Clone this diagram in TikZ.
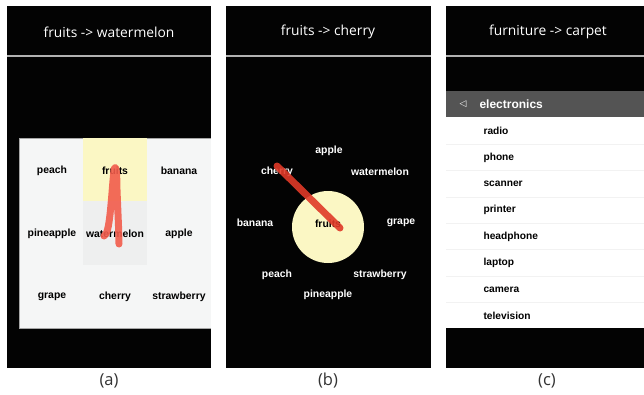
\documentclass[tikz,border=0pt]{standalone}
\usepackage{fontspec}
\usepackage{xcolor}
\setmainfont{Open Sans}
\newfontfamily\itemfont{Liberation Sans}
\newfontfamily\symfont{DejaVu Sans}
\usetikzlibrary{positioning}

\definecolor{screen}{HTML}{030303}
\definecolor{gridback}{HTML}{F5F6F6}
\definecolor{cellhigh}{HTML}{FBF7C4}
\definecolor{cellgray}{HTML}{EEEFEF}
\definecolor{touchred}{HTML}{F25C4C}
\definecolor{touchdark}{HTML}{E03A28}
\definecolor{menubar}{HTML}{545454}

\tikzset{
  title/.style={text=white,font=\fontsize{13.8}{16}\selectfont},
  caption/.style={text=black!80,font=\fontsize{16.5}{19}\selectfont},
  griditem/.style={text=black,font=\itemfont\bfseries\fontsize{10.4}{12}\selectfont},
  ringitem/.style={text=white,font=\itemfont\bfseries\fontsize{10.4}{12}\selectfont},
  listitem/.style={text=black,anchor=west,font=\itemfont\bfseries\fontsize{10.2}{12}\selectfont},
  touch/.style={line width=7pt,line cap=round,line join=round,opacity=0.9}
}

\begin{document}
\begin{tikzpicture}[x=1pt,y=-1pt]
	\fill [white] (0,0) rectangle (644,394);
	\useasboundingbox (0,0) rectangle (644,394);
	% three phone screens
	\fill [screen] (7,6) rectangle (211,368);
	\fill [screen] (226,6) rectangle (431,368);
	\fill [screen] (446,6) rectangle (644,368);
	\draw [gray!60,line width=1.2pt] (7,56)--(211,56);
	\draw [gray!60,line width=1.2pt] (226,56)--(431,56);
	\draw [gray!60,line width=1.2pt] (446,56)--(644,56);
	\node [title] (ta) at (109,32) {fruits -> watermelon};
	\node [title] (tb) at (328,32) {fruits -> cherry};
	\node [title] (tc) at (548,32) {furniture -> carpet};
	\node [caption] (ca) at (109,381) {(a)};
	\node [caption] (cb) at (328,381) {(b)};
	\node [caption] (cc) at (547,381) {(c)};

	% (a) grid menu
	\fill [gridback] (19,138) rectangle (211,328);
	\draw [gray!70] (211,328)--(19,328)--(19,138)--(211,138);
	\fill [cellhigh] (83,138) rectangle (147,201);
	\fill [cellgray] (83,201) rectangle (147,265);
	\node [griditem] (peach) at (52,171) {peach};
	\node [griditem] (fruits) at (115,171) {fruits};
	\node [griditem] (banana) at (179,171) {banana};
	\node [griditem] (pineapple) at (52,234) {pineapple};
	\node [griditem] (watermelon) at (115,234) {watermelon};
	\node [griditem] (apple) at (179,234) {apple};
	\node [griditem] (grape) at (52,297) {grape};
	\node [griditem] (cherry) at (115,297) {cherry};
	\node [griditem] (strawberry) at (179,297) {strawberry};
	\draw [touch,touchred] (104,236) .. controls (110,234) and (111,200) .. (114,170)
		.. controls (116,162) and (117,175) .. (117,190)
		.. controls (118,215) and (119,235) .. (119,244);

	% (b) marking menu
	\fill [cellhigh] (328,227) circle (36);
	\node [griditem] (rfruits) at (328,224) {fruits};
	\node [ringitem] (rapple) at (329,151) {apple};
	\node [ringitem] (rwatermelon) at (380,172) {watermelon};
	\node [ringitem] (rgrape) at (401,223) {grape};
	\node [ringitem] (rstrawberry) at (380,275) {strawberry};
	\node [ringitem] (rpineapple) at (328,295) {pineapple};
	\node [ringitem] (rpeach) at (277,275) {peach};
	\node [ringitem] (rbanana) at (255,223) {banana};
	\node [ringitem] (rcherry) at (277,172) {cherry};
	\coordinate (start) at (277,166);
	\coordinate (stop) at (340,228);
	\draw [touch,touchdark] (start)--(stop);

	% (c) list menu
	\fill [menubar] (446,91) rectangle (644,117);
	\fill [white] (446,117) rectangle (644,328);
	\node [text=white,font=\symfont\fontsize{9}{10}\selectfont] (back) at (463,104) {◁};
	\node [text=white,anchor=west,font=\itemfont\bfseries\fontsize{12}{14}\selectfont] (head) at (476,104) {electronics};
	\foreach \y in {144,170,197,223,249,276,302}
		\draw [black!5] (446,\y)--(644,\y);
	\foreach \name [count=\i from 0] in {radio,phone,scanner,printer,headphone,laptop,camera,television}
		\node [listitem] (item\i) at (480,131+26.4*\i) {\name};
\end{tikzpicture}
\end{document}
